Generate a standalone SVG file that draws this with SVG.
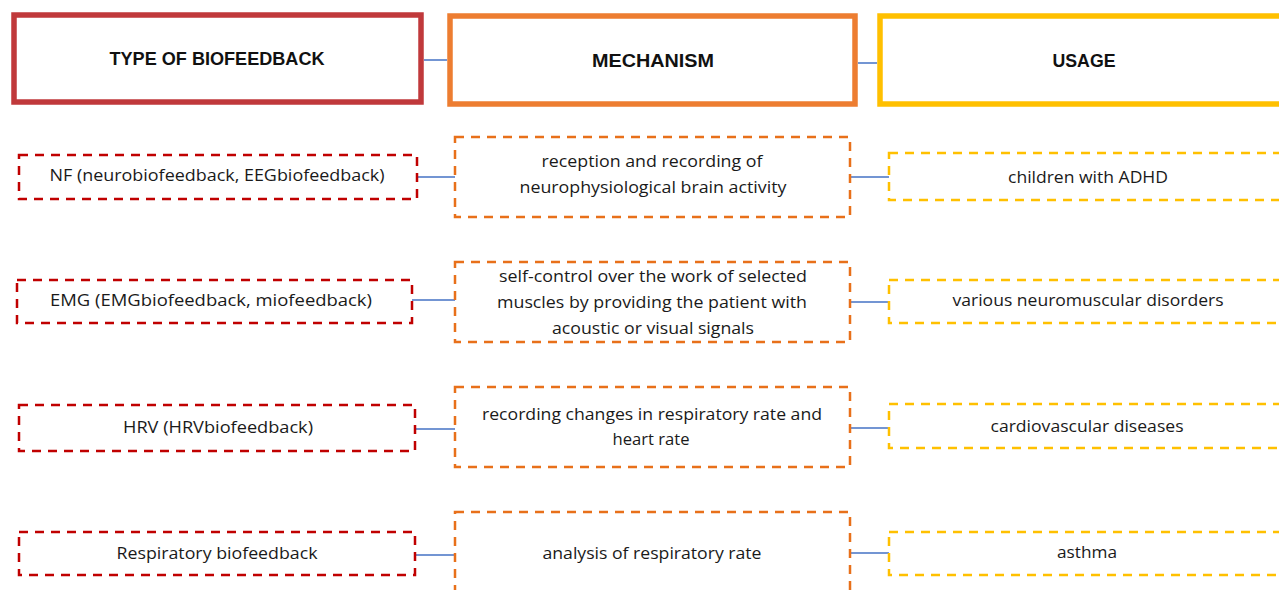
<svg xmlns="http://www.w3.org/2000/svg" width="1279" height="590" viewBox="0 0 1279 590">
<style>
.hdr{fill:#fff;stroke-width:5.5}
.h1{stroke:#C0393B}.h2{stroke:#ED7D31}.h3{stroke:#FFC000}
.bx{fill:#fff;stroke-width:2.5;stroke-dasharray:9 7}
.b1{stroke:#C00000}.b2{stroke:#E8701A}.b3{stroke:#FFC000}
.ht{font-family:"Liberation Sans",Arial,sans-serif;font-weight:bold;font-size:19px;fill:#111;text-anchor:middle}
.t{font-family:"Open Sans","Liberation Sans",Arial,sans-serif;font-size:16px;fill:#1a1a1a;text-anchor:middle}
.c{stroke:#4472C4;stroke-width:1.5;fill:none}
</style>
<rect width="1279" height="590" fill="#fff"/>
<g id="connectors">
<line class="c" x1="424" y1="60" x2="447" y2="60"/>
<line class="c" x1="858" y1="63" x2="877" y2="63"/>
<line class="c" x1="417" y1="177" x2="455" y2="177"/>
<line class="c" x1="850" y1="177" x2="889" y2="177"/>
<line class="c" x1="412" y1="300" x2="455" y2="300"/>
<line class="c" x1="850" y1="302" x2="889" y2="302"/>
<line class="c" x1="415" y1="429" x2="455" y2="429"/>
<line class="c" x1="850" y1="428" x2="889" y2="428"/>
<line class="c" x1="415" y1="555" x2="455" y2="555"/>
<line class="c" x1="850" y1="553" x2="889" y2="553"/>
</g>
<g id="hdr-type"><rect class="hdr h1" x="14" y="15" width="407" height="87"/><text class="ht" x="217" y="65" textLength="215" lengthAdjust="spacingAndGlyphs">TYPE OF BIOFEEDBACK</text></g>
<g id="hdr-mech"><rect class="hdr h2" x="450" y="16" width="405" height="88"/><text class="ht" x="653" y="67" textLength="122" lengthAdjust="spacingAndGlyphs">MECHANISM</text></g>
<g id="hdr-usage"><rect class="hdr h3" x="880" y="16" width="420" height="88"/><text class="ht" x="1084" y="67" textLength="63" lengthAdjust="spacingAndGlyphs">USAGE</text></g>

<g id="type-nf"><rect class="bx b1" x="19" y="155" width="398" height="44"/><text class="t" x="217" y="181" textLength="335" lengthAdjust="spacingAndGlyphs">NF (neurobiofeedback, EEGbiofeedback)</text></g>
<g id="type-emg"><rect class="bx b1" x="17" y="280" width="395" height="43"/><text class="t" x="211" y="306" textLength="322" lengthAdjust="spacingAndGlyphs">EMG (EMGbiofeedback, miofeedback)</text></g>
<g id="type-hrv"><rect class="bx b1" x="19" y="405" width="396" height="46"/><text class="t" x="218" y="433" textLength="190" lengthAdjust="spacingAndGlyphs">HRV (HRVbiofeedback)</text></g>
<g id="type-resp"><rect class="bx b1" x="19" y="532" width="396" height="43"/><text class="t" x="217" y="559" textLength="201" lengthAdjust="spacingAndGlyphs">Respiratory biofeedback</text></g>

<g id="mech-nf"><rect class="bx b2" x="455" y="137" width="395" height="80"/>
<text class="t" x="652" y="167" textLength="221" lengthAdjust="spacingAndGlyphs">reception and recording of</text>
<text class="t" x="653" y="193" textLength="267" lengthAdjust="spacingAndGlyphs">neurophysiological brain activity</text></g>
<g id="mech-emg"><rect class="bx b2" x="455" y="262" width="395" height="80"/>
<text class="t" x="653" y="282" textLength="308" lengthAdjust="spacingAndGlyphs">self-control over the work of selected</text>
<text class="t" x="652" y="308" textLength="310" lengthAdjust="spacingAndGlyphs">muscles by providing the patient with</text>
<text class="t" x="653" y="334" textLength="202" lengthAdjust="spacingAndGlyphs">acoustic or visual signals</text></g>
<g id="mech-hrv"><rect class="bx b2" x="455" y="387" width="395" height="80"/>
<text class="t" x="652" y="420" textLength="340" lengthAdjust="spacingAndGlyphs">recording changes in respiratory rate and</text>
<text class="t" x="651" y="445" textLength="77" lengthAdjust="spacingAndGlyphs">heart rate</text></g>
<g id="mech-resp"><rect class="bx b2" x="455" y="512" width="395" height="110"/>
<text class="t" x="652" y="559" textLength="219" lengthAdjust="spacingAndGlyphs">analysis of respiratory rate</text></g>

<g id="usage-nf"><rect class="bx b3" x="889" y="153" width="420" height="47"/><text class="t" x="1088" y="183" textLength="160" lengthAdjust="spacingAndGlyphs">children with ADHD</text></g>
<g id="usage-emg"><rect class="bx b3" x="889" y="280" width="420" height="43"/><text class="t" x="1088" y="306" textLength="271" lengthAdjust="spacingAndGlyphs">various neuromuscular disorders</text></g>
<g id="usage-hrv"><rect class="bx b3" x="889" y="404" width="420" height="44"/><text class="t" x="1087" y="432" textLength="193" lengthAdjust="spacingAndGlyphs">cardiovascular diseases</text></g>
<g id="usage-resp"><rect class="bx b3" x="889" y="532" width="420" height="43"/><text class="t" x="1087" y="558" textLength="60" lengthAdjust="spacingAndGlyphs">asthma</text></g>
</svg>
